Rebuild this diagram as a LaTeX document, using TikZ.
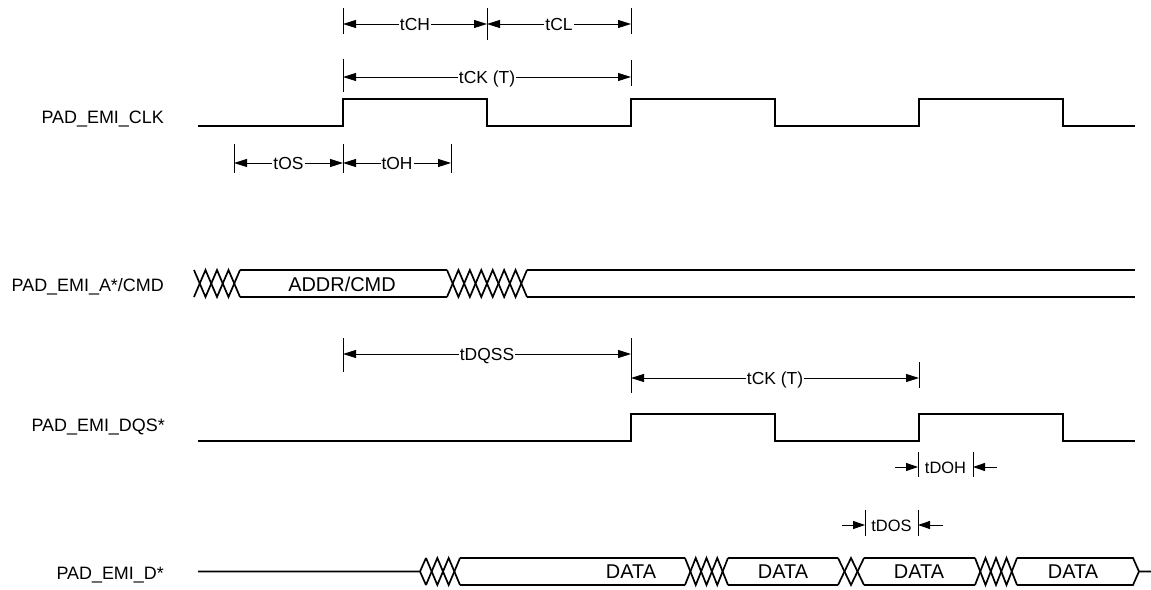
\documentclass[tikz,border=0pt]{standalone}
\usepackage{fontspec}
\setmainfont{Liberation Sans}
\usetikzlibrary{arrows.meta}
\tikzset{
  wave/.style={line width=1.9bp},
  bus/.style={line width=1.7bp},
  dimtick/.style={line width=0.9bp},
  dim/.style={line width=0.9bp, {Triangle[length=13bp,width=8bp]}-{Triangle[length=13bp,width=8bp]}},
  onearrow/.style={line width=0.9bp, -{Triangle[length=12bp,width=8bp]}},
  sig/.style={anchor=east, font=\fontsize{18}{21}\selectfont, inner sep=0pt},
  tlab/.style={fill=white, inner sep=1bp, font=\fontsize{17.5}{20}\selectfont, text height=12.5bp, text depth=0bp},
  slab/.style={inner sep=0pt, font=\fontsize{16.5}{20}\selectfont, text height=12bp, text depth=0bp},
  dlab/.style={inner sep=0pt, font=\fontsize{20}{23}\selectfont},
}
\newcommand{\myxhatch}[5]{%
  \pgfmathsetmacro\xhw{(#2-#1)/#3}%
  \draw[bus] (#1,#4) \foreach \k in {1,...,#3}{ -- ({#1+\k*\xhw},{#4+(#5-#4)*mod(\k,2)}) };
  \draw[bus] (#1,#5) \foreach \k in {1,...,#3}{ -- ({#1+\k*\xhw},{#5+(#4-#5)*mod(\k,2)}) };
}
\begin{document}
\begin{tikzpicture}[x=1bp,y=-1bp]
\useasboundingbox (0,0) rectangle (1151,590);

% signal labels
\node[sig] (lclk) at (164,119) {PAD\_EMI\_CLK};
\node[sig] (laddr) at (164,287) {PAD\_EMI\_A*/CMD};
\node[sig] (ldqs) at (165,427) {PAD\_EMI\_DQS*};
\node[sig] (ld) at (164,575) {PAD\_EMI\_D*};

% CLK
\draw[wave] (198,126) -- (343,126) -- (343,99) -- (487,99) -- (487,126) -- (631,126) -- (631,99)
  -- (775,99) -- (775,126) -- (919,126) -- (919,99) -- (1063,99) -- (1063,126) -- (1135,126);

% DQS
\draw[wave] (198,441) -- (631,441) -- (631,414) -- (775,414) -- (775,441) -- (919,441) -- (919,414)
  -- (1063,414) -- (1063,441) -- (1135,441);

% ADDR/CMD bus
\myxhatch{194}{240}{4}{270}{297}
\draw[bus] (240,270) -- (447,270) (240,297) -- (447,297);
\myxhatch{447}{527}{7}{270}{297}
\draw[bus] (527,270) -- (1135,270) (527,297) -- (1135,297);
\node[dlab] (addr) at (342,284) {ADDR/CMD};

% DATA bus
\draw[bus] (198,571.5) -- (420,571.5) -- (426,558) (420,571.5) -- (426,585);
\myxhatch{426}{460}{3}{558}{585}
\draw[bus] (460,558) -- (685,558) (460,585) -- (685,585);
\myxhatch{685}{728}{4}{558}{585}
\draw[bus] (728,558) -- (838,558) (728,585) -- (838,585);
\myxhatch{838}{864}{2}{558}{585}
\draw[bus] (864,558) -- (975,558) (864,585) -- (975,585);
\myxhatch{975}{1017}{4}{558}{585}
\draw[bus] (1017,558) -- (1133,558) -- (1139,571.5) -- (1133,585) -- (1017,585) (1139,571.5) -- (1151,571.5);
\node[dlab] (d1) at (631,571.5) {DATA};
\node[dlab] (d2) at (783,571.5) {DATA};
\node[dlab] (d3) at (919,571.5) {DATA};
\node[dlab] (d4) at (1073,571.5) {DATA};

% tCH / tCL
\draw[dimtick] (343,8) -- (343,34) (487,8) -- (487,40) (631,8) -- (631,34);
\draw[dim] (343,24) -- node[tlab] (tch) {tCH} (487,24);
\draw[dim] (487,24) -- node[tlab] (tcl) {tCL} (631,24);
% tCK
\draw[dimtick] (343,59) -- (343,92) (631,60) -- (631,86);
\draw[dim] (343,77) -- node[tlab] (tck) {tCK (T)} (631,77);
% tOS / tOH
\draw[dimtick] (234,144) -- (234,173) (343,144) -- (343,173) (451,144) -- (451,173);
\draw[dim] (234,163) -- node[tlab] (tos) {tOS} (343,163);
\draw[dim] (343,163) -- node[tlab] (toh) {tOH} (451,163);
% tDQSS / tCK
\draw[dimtick] (343,338) -- (343,372) (631,338) -- (631,393) (919,362) -- (919,388);
\draw[dim] (343,354) -- node[tlab] (tdqss) {tDQSS} (631,354);
\draw[dim] (631,378) -- node[tlab] (tck2) {tCK (T)} (919,378);
% tDOH
\draw[dimtick] (918,452) -- (918,477) (973,452) -- (973,477);
\draw[onearrow] (895,467) -- (918,467);
\draw[onearrow] (997,467) -- (973,467);
\node[slab] (tdoh) at (945.5,467) {tDOH};
% tDOS
\draw[dimtick] (865,510) -- (865,536) (918,510) -- (918,536);
\draw[onearrow] (842,525) -- (865,525);
\draw[onearrow] (943,525) -- (918,525);
\node[slab] (tdos) at (891.5,525) {tDOS};
\end{tikzpicture}
\end{document}
